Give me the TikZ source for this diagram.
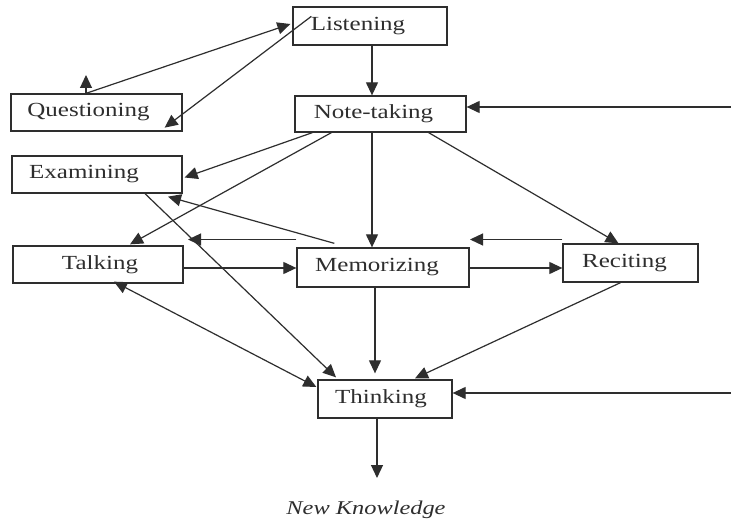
\documentclass[tikz,border=0pt]{standalone}
\usepackage{fontspec}
\setmainfont{Liberation Serif}[FakeStretch=1.25]
\usetikzlibrary{arrows.meta,calc}
\definecolor{ink}{HTML}{2E2E2E}
\begin{document}
\begin{tikzpicture}[x=1pt,y=-1pt,
  box/.style={draw=ink,line width=1.3pt,rectangle,inner sep=0pt},
  lab/.style={text=ink,font=\fontsize{20}{22}\selectfont},
  tip/.tip={Triangle[length=13pt,width=12pt]},
  arr/.style={draw=ink,line width=1.2pt,-tip},
  dbl/.style={draw=ink,line width=1.2pt,tip-tip}]
\useasboundingbox[fill=white] (0,0) rectangle (731,521);
% boxes
\node[box,minimum width=154pt,minimum height=38pt,label={[lab,xshift=-12pt]center:Listening}] (L) at (370,26) {};
\node[box,minimum width=171pt,minimum height=37pt,label={[lab,xshift=-8pt]center:Questioning}] (Q) at (96.5,112.5) {};
\node[box,minimum width=171pt,minimum height=36pt,label={[lab,xshift=-7pt]center:Note-taking}] (N) at (380.5,114) {};
\node[box,minimum width=170pt,minimum height=37pt,label={[lab,xshift=-13pt]center:Examining}] (E) at (97,174.5) {};
\node[box,minimum width=170pt,minimum height=37pt,label={[lab,xshift=2pt]center:Talking}] (T) at (98,264.5) {};
\node[box,minimum width=172pt,minimum height=39pt,label={[lab,xshift=-6pt]center:Memorizing}] (M) at (383,267.5) {};
\node[box,minimum width=135pt,minimum height=38pt,label={[lab,xshift=-6pt]center:Reciting}] (R) at (630.5,263) {};
\node[box,minimum width=134pt,minimum height=38pt,label={[lab,xshift=-4pt]center:Thinking}] (K) at (385,399) {};
\node[text=ink,font=\fontsize{19.5}{21}\selectfont\itshape] (NK) at (366,510) {New Knowledge};
% helper coordinates
\coordinate (qup) at (86,75);
\coordinate (vx) at (372,0);
\coordinate (vx2) at (375,0);
\coordinate (vx3) at (377,0);
\coordinate (h1) at (0,268);
\coordinate (h2) at (0,239.5);
\coordinate (t2) at (188,239.5);
\coordinate (m2) at (470,239.5);
\coordinate (rin1) at (731,107);
\coordinate (rin2) at (731,393);
\coordinate (nkend) at (377,478);
% connectors
\draw[arr] (Q.north -| qup) -- (qup);
\draw[arr] (Q.north -| qup) -- ($(L.west)+(-2,-2)$);
\draw[arr] ($(L.north west)+(19,10)$) -- ($(Q.south east)+(-18,-4)$);
\draw[arr] (L.south -| vx) -- (N.north -| vx);
\draw[arr] (rin1) -- (rin1 -| N.east);
\draw[arr] ($(N.south west)+(18,0)$) -- ($(E.east)+(2,3)$);
\draw[arr] ($(N.south west)+(37,0)$) -- ($(T.north)+(32,-1)$);
\draw[arr] (N.south -| vx) -- (M.north -| vx);
\draw[arr] ($(N.south east)+(-38,0)$) -- ($(R.north)+(-12,0)$);
\draw[arr] ($(M.north west)+(38,-4)$) -- ($(E.south)+(71,3)$);
\draw[arr] (M.west |- h2) -- (t2);
\draw[arr] (R.west |- h2) -- (m2);
\draw[arr] (T.east |- h1) -- (M.west |- h1);
\draw[arr] (M.east |- h1) -- (R.west |- h1);
\draw[dbl] ($(T.south)+(16,-2)$) -- ($(K.west)+(-1,-12)$);
\draw[arr] ($(E.south)+(48,0)$) -- ($(K.north)+(-49,-2)$);
\draw[arr] (M.south -| vx2) -- ($(K.north -| vx2)+(0,-6)$);
\draw[arr] ($(R.south)+(-10,0)$) -- ($(K.north)+(30,-1)$);
\draw[arr] (rin2) -- (rin2 -| K.east);
\draw[arr] (K.south -| vx3) -- (nkend);
\end{tikzpicture}
\end{document}
